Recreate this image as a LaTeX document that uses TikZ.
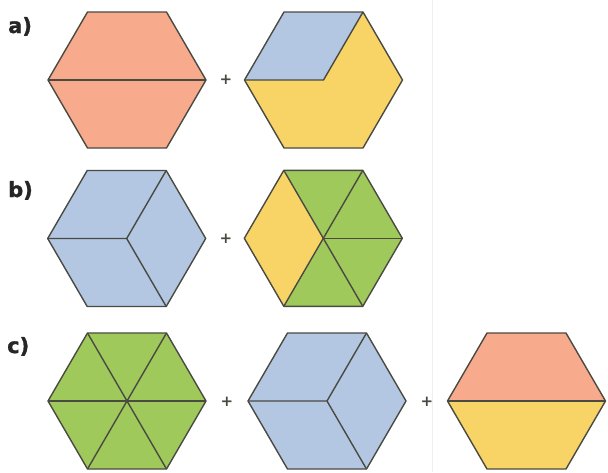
\documentclass[tikz,border=0pt]{standalone}
\usepackage{fontspec}
\setsansfont{DejaVu Sans}
\newfontfamily\labfont[FakeBold=1.2]{DejaVu Sans Bold}
\definecolor{salmon}{HTML}{F8AA8C}
\definecolor{hexblue}{HTML}{B3C7E3}
\definecolor{hexyellow}{HTML}{F8D466}
\definecolor{hexgreen}{HTML}{A0C95C}
\definecolor{linec}{HTML}{4A4A42}
\newcommand\hexpts[3]{%
  \coordinate (#1-c) at (#2,#3);
  \coordinate (#1-R) at ([shift={(#2,#3)}]79,0);
  \coordinate (#1-TR) at ([shift={(#2,#3)}]39.5,-68);
  \coordinate (#1-TL) at ([shift={(#2,#3)}]-39.5,-68);
  \coordinate (#1-L) at ([shift={(#2,#3)}]-79,0);
  \coordinate (#1-BL) at ([shift={(#2,#3)}]-39.5,68);
  \coordinate (#1-BR) at ([shift={(#2,#3)}]39.5,68);
}
\newcommand\hexfull[1]{(#1-R)--(#1-TR)--(#1-TL)--(#1-L)--(#1-BL)--(#1-BR)--cycle}
\begin{document}
\begin{tikzpicture}[x=1pt,y=-1pt,
  edge/.style={draw=linec, line width=1.4pt, line join=round},
  plus/.style={font=\sffamily\bfseries\fontsize{15}{15}\selectfont, text=linec, inner sep=0pt},
  lab/.style={font=\labfont\fontsize{21}{21}\selectfont, text=black!85, anchor=base west, inner sep=0pt}]
\useasboundingbox (0,0) rectangle (608,472);
\fill[white] (0,0) rectangle (608,472);
\draw[black!6, line width=1pt] (432,0) -- (432,472);

\hexpts{a1}{127}{80}
\hexpts{a2}{323.5}{80}
\hexpts{b1}{126.7}{238.5}
\hexpts{b2}{323.3}{238.3}
\hexpts{c1}{127}{401}
\hexpts{c2}{327}{401}
\hexpts{c3}{526.5}{401}

% a1
\fill[salmon] \hexfull{a1};
\draw[edge] (a1-L) -- (a1-R);
\draw[edge] \hexfull{a1};
% a2
\fill[hexyellow] \hexfull{a2};
\fill[hexblue] (a2-L) -- (a2-TL) -- (a2-TR) -- (a2-c) -- cycle;
\draw[edge] (a2-L) -- (a2-c) -- (a2-TR);
\draw[edge] \hexfull{a2};
% b1
\fill[hexblue] \hexfull{b1};
\draw[edge] (b1-L) -- (b1-c) -- (b1-TR);
\draw[edge] (b1-c) -- (b1-BR);
\draw[edge] \hexfull{b1};
% b2
\fill[hexgreen] \hexfull{b2};
\fill[hexyellow] (b2-L) -- (b2-TL) -- (b2-c) -- (b2-BL) -- cycle;
\draw[edge] (b2-TL) -- (b2-c) -- (b2-BL);
\draw[edge] (b2-TR) -- (b2-c) -- (b2-BR);
\draw[edge] (b2-c) -- (b2-R);
\draw[edge] \hexfull{b2};
% c1
\fill[hexgreen] \hexfull{c1};
\draw[edge] (c1-L) -- (c1-R);
\draw[edge] (c1-TL) -- (c1-BR);
\draw[edge] (c1-TR) -- (c1-BL);
\draw[edge] \hexfull{c1};
% c2
\fill[hexblue] \hexfull{c2};
\draw[edge] (c2-L) -- (c2-c) -- (c2-TR);
\draw[edge] (c2-c) -- (c2-BR);
\draw[edge] \hexfull{c2};
% c3
\fill[hexyellow] \hexfull{c3};
\fill[salmon] (c3-L) -- (c3-TL) -- (c3-TR) -- (c3-R) -- cycle;
\draw[edge] (c3-L) -- (c3-R);
\draw[edge] \hexfull{c3};

% plus signs
\node[plus] (p1) at (226,80) {+};
\node[plus] (p2) at (226,238.5) {+};
\node[plus] (p3) at (227,402) {+};
\node[plus] (p4) at (427,402) {+};

% labels
\node[lab] (la) at (8,33) {a)};
\node[lab] (lb) at (8,197) {b)};
\node[lab] (lc) at (7,353) {c)};
\end{tikzpicture}
\end{document}
